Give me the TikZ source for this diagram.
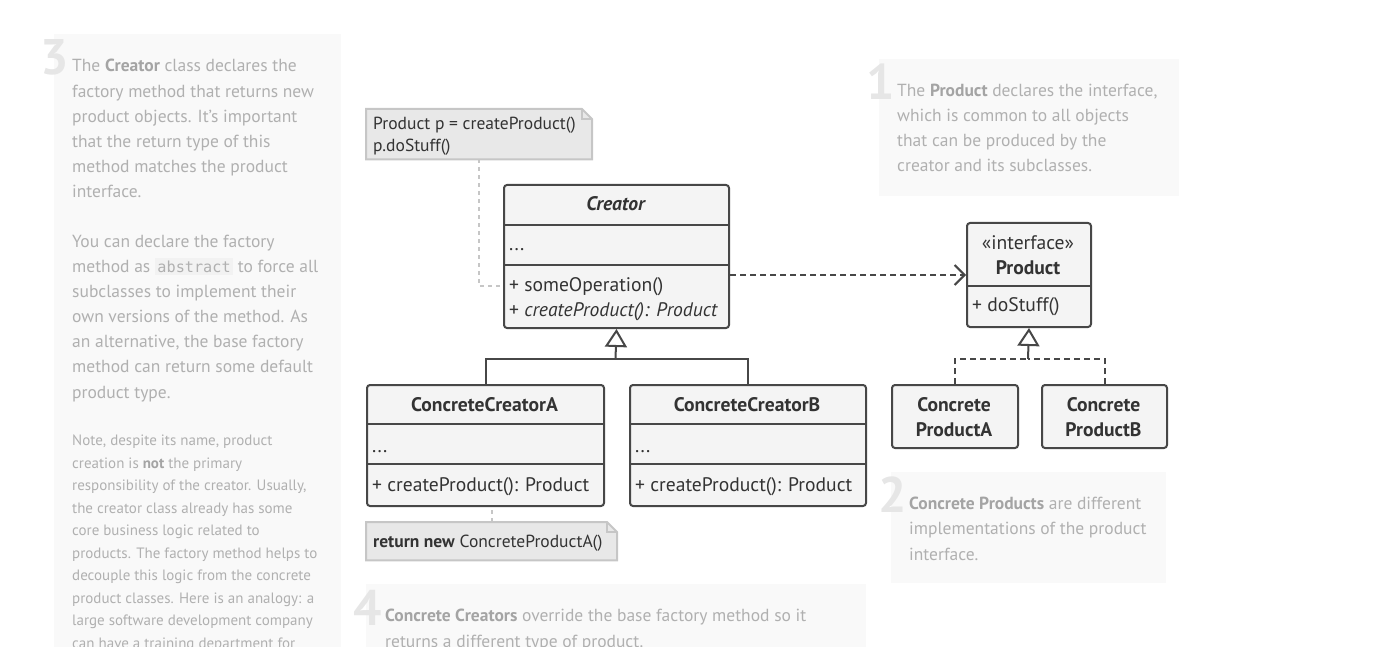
\documentclass[tikz,border=0pt]{standalone}
\usepackage{fontspec}
\setmainfont{PT Sans}
\newfontfamily\codefont{DejaVu Sans Mono}
\usepackage{xcolor}
\usetikzlibrary{positioning}
\usetikzlibrary{arrows.meta}

\definecolor{umlline}{HTML}{474747}
\definecolor{umlfill}{HTML}{F4F4F4}
\definecolor{umltext}{HTML}{333333}
\definecolor{notefill}{HTML}{E8E8E8}
\definecolor{noteline}{HTML}{C6C6C6}
\definecolor{infofill}{HTML}{F9F9F9}
\definecolor{infotext}{HTML}{B0B0B0}
\definecolor{infobold}{HTML}{A4A4A4}
\definecolor{infonum}{HTML}{E6E6E6}
\definecolor{codebg}{HTML}{F2F2F2}

\newcommand{\hl}[1]{{\bfseries\color{infobold}#1}}
\newcommand{\code}[1]{{\setlength{\fboxsep}{2.5pt}\colorbox{codebg}{\codefont\fontsize{15.2}{15.2}\selectfont #1}}}

\begin{document}
\begin{tikzpicture}[x=1pt,y=-1pt,
  classbox/.style={draw=umlline,fill=umlfill,line width=2pt,rounded corners=3pt,
    anchor=north west,inner sep=0pt},
  divider/.style={draw=umlline,line width=2pt},
  member/.style={anchor=base west,text=umltext,inner sep=0pt,font=\fontsize{19.6}{19.6}\selectfont},
  title/.style={anchor=base,text=umltext,inner sep=0pt,font=\fontsize{19.6}{19.6}\selectfont\bfseries},
  notetext/.style={member,font=\fontsize{17.5}{17.5}\selectfont},
  notebox/.style={fill=notefill,draw=noteline,line width=2pt},
  notelink/.style={draw=noteline,line width=2pt,dash pattern=on 4pt off 4pt},
  infobox/.style={fill=infofill,draw=none},
  infopar/.style={anchor=base west,text=infotext,inner sep=0pt,align=left,
    font=\fontsize{17.5}{25.1}\selectfont},
  infonr/.style={anchor=base west,text=infonum,inner sep=0pt,
    font=\fontsize{50}{50}\selectfont\bfseries},
  inherit/.style={draw=umlline,line width=2pt},
  hollow/.style={-{Triangle[length=18pt,width=22pt,fill=white,line width=2pt]}},
]

  \useasboundingbox (0,0) rectangle (1384,647);

  % notes 3, 1, 2, 4 (anchored at their last line)
  \fill[infobox] (54,34) rectangle (341,647);
  \node[infonr] (n3) at (40,75) {3};
  \node[infopar] (t3a) at (72,197.5) {The \hl{Creator} class declares the\\
    factory method that returns new\\ product objects. It's important\\
    that the return type of this\\ method matches the product\\ interface.};
  \node[infopar] (t3b) at (72,398) {You can declare the factory\\
    method as \code{abstract} to force all\\ subclasses to implement their\\
    own versions of the method. As\\ an alternative, the base factory\\
    method can return some default\\ product type.};
  \node[infopar,font=\fontsize{15}{22.45}\selectfont] (t3c) at (72,648)
    {Note, despite its name, product\\ creation is \hl{not} the primary\\
    responsibility of the creator. Usually,\\ the creator class already has some\\
    core business logic related to\\ products. The factory method helps to\\
    decouple this logic from the concrete\\ product classes. Here is an analogy: a\\
    large software development company\\ can have a training department for};

  \fill[infobox] (879,59) rectangle (1179,196);
  \node[infonr] (n1) at (866,100) {1};
  \node[infopar] (t1) at (897,172) {The \hl{Product} declares the interface,\\
    which is common to all objects\\ that can be produced by the\\ creator and its subclasses.};

  \fill[infobox] (891,472) rectangle (1166,583);
  \node[infonr] (n2) at (878,512) {2};
  \node[infopar] (t2) at (909,560) {\hl{Concrete Products} are different\\
    implementations of the product\\ interface.};

  \fill[infobox] (366,584) rectangle (866,647);
  \node[infonr] (n4) at (353,625) {4};
  \node[infopar] (t4) at (385,647) {\hl{Concrete Creators} override the base factory method so it\\
    returns a different type of product.};

  % creator
  \node[classbox,minimum width=225pt,minimum height=143pt] (creator) at (503,184) {};
  \draw[divider] (503,225) -- (728,225);
  \draw[divider] (503,265) -- (728,265);
  \node[title,font=\fontsize{19.6}{19.6}\selectfont\bfseries\itshape] (creatorname) at (615.5,211) {Creator};
  \node[member] (creatorattr) at (509,251) {...};
  \node[member] (someop) at (509,291) {+ someOperation()};
  \node[member] (createop) at (509,316) {+ \textit{createProduct(): Product}};

  % concrete creators
  \node[classbox,minimum width=237pt,minimum height=121pt] (ccA) at (366,384) {};
  \draw[divider] (366,424) -- (603,424);
  \draw[divider] (366,464) -- (603,464);
  \node[title] (ccAname) at (484.5,411) {ConcreteCreatorA};
  \node[member] (ccAattr) at (372,452) {...};
  \node[member] (ccAop) at (372,491) {+ createProduct(): Product};

  \node[classbox,minimum width=236pt,minimum height=121pt] (ccB) at (629,384) {};
  \draw[divider] (629,424) -- (865,424);
  \draw[divider] (629,464) -- (865,464);
  \node[title] (ccBname) at (747,411) {ConcreteCreatorB};
  \node[member] (ccBattr) at (635,452) {...};
  \node[member] (ccBop) at (635,491) {+ createProduct(): Product};

  \coordinate (cjoin) at (615.5,359);
  \draw[inherit] (ccA.north) |- (cjoin);
  \draw[inherit] (ccB.north) |- (cjoin);
  \draw[inherit,hollow] (cjoin) -- (creator.south);

  % product
  \node[classbox,minimum width=124pt,minimum height=104pt] (product) at (966,222) {};
  \draw[divider] (966,286) -- (1090,286);
  \node[title,font=\fontsize{19.6}{19.6}\selectfont] (stereo) at (1028,249) {«interface»};
  \node[title] (productname) at (1028,274) {Product};
  \node[member] (dostuff) at (972,311) {+ doStuff()};

  \draw[inherit,dash pattern=on 6pt off 4pt,-{Straight Barb[length=10pt,width=20pt,line width=2pt]}]
    (creator.east |- product.west) -- (product.west);

  % concrete products
  \node[classbox,minimum width=126pt,minimum height=63pt] (cpA) at (891,384) {};
  \node[title,align=center,font=\fontsize{19.6}{25}\selectfont\bfseries] (cpAname) at (954,436) {Concrete\\ ProductA};
  \node[classbox,minimum width=125pt,minimum height=63pt] (cpB) at (1041,384) {};
  \node[title,align=center,font=\fontsize{19.6}{25}\selectfont\bfseries] (cpBname) at (1103.5,436) {Concrete\\ ProductB};

  \coordinate (pjoin) at (1028,359);
  \draw[inherit,dash pattern=on 6pt off 4pt] (cpA.north) |- (pjoin);
  \draw[inherit,dash pattern=on 6pt off 4pt] (cpB.north) |- (pjoin);
  \draw[inherit,hollow] (pjoin) -- (product.south);

  % code notes
  \node[minimum width=226pt,minimum height=50pt,anchor=north west,inner sep=0pt] (callnote) at (366,109) {};
  \draw[notebox] (callnote.north west) -- ++(216,0) -- ++(10,10) |- (callnote.south west) -- cycle;
  \draw[draw=noteline,line width=1.5pt] (582,109) |- (592,119);
  \node[notetext] (calltext1) at (373,130) {Product p = createProduct()};
  \node[notetext] (calltext2) at (373,152) {p.doStuff()};
  \draw[notelink] (callnote.south) |- (creator.west |- someop);

  \node[minimum width=251pt,minimum height=38pt,anchor=north west,inner sep=0pt] (retnote) at (366,522) {};
  \draw[notebox] (retnote.north west) -- ++(241,0) -- ++(10,10) |- (retnote.south west) -- cycle;
  \draw[draw=noteline,line width=1.5pt] (607,522) |- (617,532);
  \node[notetext] (rettext) at (373,547) {\textbf{return new} ConcreteProductA()};
  \draw[notelink] (retnote.north) -- (retnote.north |- ccA.south);

\end{tikzpicture}
\end{document}
